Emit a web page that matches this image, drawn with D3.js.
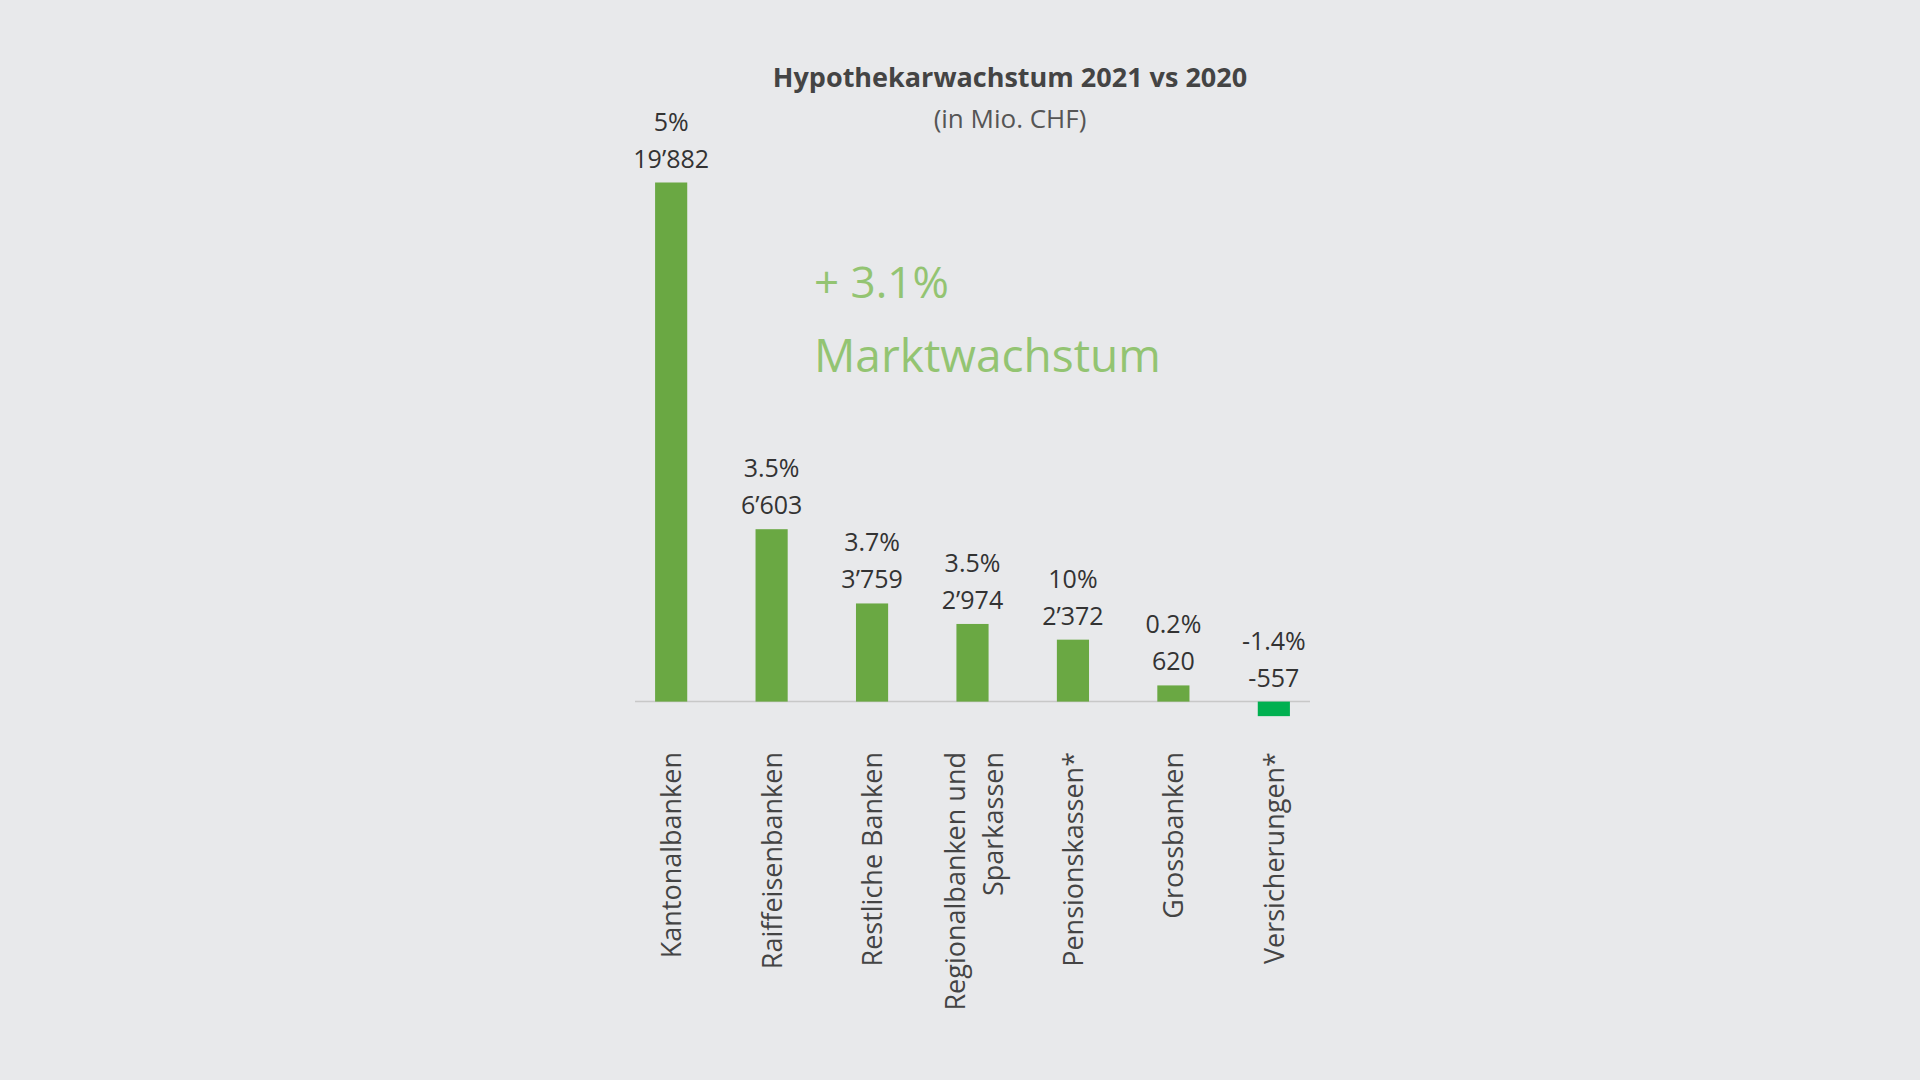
<!DOCTYPE html>
<html><head><meta charset="utf-8">
<script src="https://cdn.jsdelivr.net/npm/d3@7"></script>
<style>body{margin:0;background:#e8e9eb;}svg{display:block;font-family:"Open Sans",sans-serif;}</style>
</head><body><svg id="chart" width="1920" height="1080"></svg>
<script>
const categories = ["Kantonalbanken", "Raiffeisenbanken", "Restliche Banken", "Regionalbanken und|Sparkassen", "Pensionskassen*", "Grossbanken", "Versicherungen*"];
const values = [19882, 6603, 3759, 2974, 2372, 620, -557];
const valueLabels = ["19’882", "6’603", "3’759", "2’974", "2’372", "620", "-557"];
const growth = ["5%", "3.5%", "3.7%", "3.5%", "10%", "0.2%", "-1.4%"];

const svg = d3.select("#chart");
const x = d3.scaleBand().domain(categories).range([635, 1310]).paddingInner(0.68).paddingOuter(0.2);
const y = d3.scaleLinear().domain([0, 19882]).range([701.6, 182.5]);

svg.append("text").attr("x", 1010).attr("y", 87).attr("text-anchor", "middle")
  .attr("font-size", 27).attr("font-weight", "bold").attr("fill", "#444").text("Hypothekarwachstum 2021 vs 2020");
svg.append("text").attr("x", 1010).attr("y", 128).attr("text-anchor", "middle")
  .attr("font-size", 26).attr("fill", "#555").text("(in Mio. CHF)");

svg.append("text").attr("x", 814).attr("y", 298).attr("font-size", 44).attr("fill", "#93c472").text("+ 3.1%");
svg.append("text").attr("x", 814).attr("y", 372).attr("font-size", 46).attr("fill", "#93c472").text("Marktwachstum");

svg.append("line").attr("x1", 635).attr("x2", 1310).attr("y1", y(0)).attr("y2", y(0))
  .attr("stroke", "#c8c8c8").attr("stroke-width", 1.5);

svg.selectAll("rect.bar").data(values).join("rect").attr("class", "bar")
  .attr("x", (d, i) => x(categories[i]))
  .attr("width", x.bandwidth())
  .attr("y", d => y(Math.max(d, 0)))
  .attr("height", d => Math.abs(y(d) - y(0)))
  .attr("fill", d => d < 0 ? "#00b050" : "#6aa843");

const lab = svg.selectAll("g.lab").data(values).join("g").attr("class", "lab")
  .attr("transform", (d, i) => `translate(${x(categories[i]) + x.bandwidth() / 2},${Math.min(y(d), y(0))})`);
lab.append("text").attr("y", -52).attr("text-anchor", "middle").attr("font-size", 25).attr("fill", "#333")
  .text((d, i) => growth[i]);
lab.append("text").attr("y", -15).attr("text-anchor", "middle").attr("font-size", 25).attr("fill", "#333")
  .text((d, i) => valueLabels[i]);

const cat = svg.selectAll("g.cat").data(categories).join("g").attr("class", "cat")
  .attr("transform", d => `translate(${x(d) + x.bandwidth() / 2},752) rotate(-90)`);
cat.each(function(d) {
  const parts = d.split("|");
  const g = d3.select(this);
  parts.forEach((p, j) => {
    g.append("text").attr("text-anchor", "end").attr("font-size", 27).attr("fill", "#444")
      .attr("dy", parts.length > 1 ? (j === 0 ? -8 : 30) : 10).text(p);
  });
});
</script></body></html>
